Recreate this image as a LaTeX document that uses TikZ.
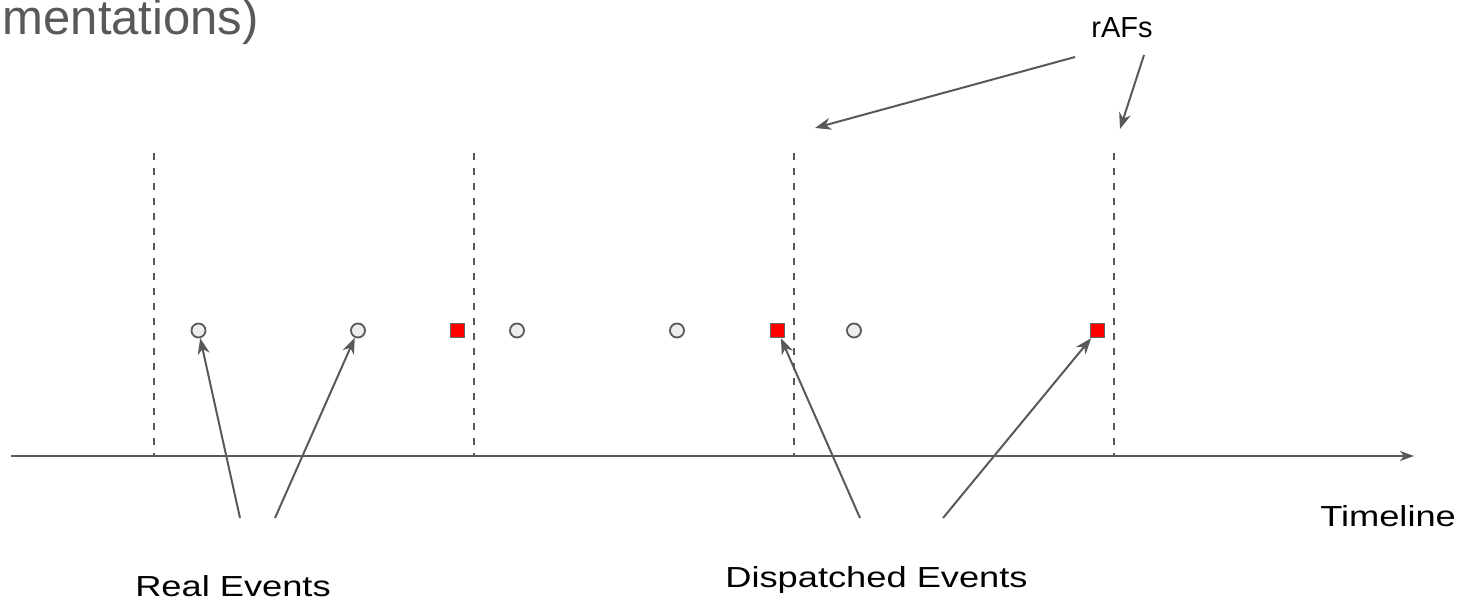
\documentclass[tikz,border=0pt]{standalone}
\usepackage{fontspec}
\setmainfont{Liberation Sans}
\usetikzlibrary{arrows.meta}
\definecolor{linegray}{HTML}{595959}
\definecolor{dotfill}{HTML}{EEEEEE}
\definecolor{boxedge}{HTML}{666666}
\tikzset{
  every picture/.style={x=1pt,y=-1pt},
  tl/.style={draw=linegray,line width=2pt},
  raf/.style={draw=linegray,line width=2pt,dash pattern=on 7pt off 8pt},
  realev/.style={circle,draw=linegray,fill=dotfill,line width=1.8pt,minimum size=14pt,inner sep=0pt},
  dispev/.style={rectangle,draw=boxedge,fill=red,line width=1.5pt,minimum size=14pt,inner sep=0pt},
  pointer/.style={draw=linegray,line width=2pt,-{Stealth[length=16pt,width=12pt,inset=5pt]}},
  lbl/.style={font=\fontsize{29}{34}\selectfont,xscale=1.25,inner sep=0pt,anchor=base},
}
\begin{document}
\begin{tikzpicture}
\useasboundingbox (0,0) rectangle (1461,604);
\clip (0,0) rectangle (1461,604);

% heading fragment
\node[font=\fontsize{49}{58}\selectfont,text=linegray,inner sep=0pt,anchor=base east] (head) at (259,35) {mentations)};

% timeline axis
\coordinate (t0) at (11,456);
\coordinate (t1) at (1414,456);
\draw[tl,-{Stealth[length=14pt,width=10pt,inset=4pt]}] (t0) -- (t1);

% frame boundaries
\foreach \n/\x in {f1/154,f2/474,f3/794,f4/1114}{
  \coordinate (\n top) at (\x,153);
  \coordinate (\n bot) at (\x,456);
  \draw[raf] (\n top) -- (\n bot);
}

% real events
\node[realev] (e1) at (198.5,330.5) {};
\node[realev] (e2) at (358,330.5) {};
\node[realev] (e3) at (517,330.5) {};
\node[realev] (e4) at (677,330.5) {};
\node[realev] (e5) at (854,330.5) {};

% dispatched events
\node[dispev] (d1) at (457.5,330.5) {};
\node[dispev] (d2) at (777.5,330.5) {};
\node[dispev] (d3) at (1097.5,330.5) {};

% labels
\node[lbl] (lreal) at (233,596) {Real Events};
\node[lbl] (ldisp) at (876.5,587) {Dispatched Events};
\node[lbl,anchor=base west] (ltime) at (1320,526) {Timeline};
\node[lbl,xscale=0.8] (lraf) at (1122,38) {rAFs};

% pointer tails
\coordinate (pr1) at (240,518);
\coordinate (pr2) at (275,518);
\coordinate (pd1) at (860,518);
\coordinate (pd2) at (943,518);
\coordinate (pa1) at (1075,57);
\coordinate (pa2) at (1144,55);
\coordinate (qa1) at (815,128);
\coordinate (qa2) at (1120,129);

\draw[pointer] (pr1) -- (e1);
\draw[pointer] (pr2) -- (e2);
\draw[pointer] (pd1) -- (d2);
\draw[pointer] (pd2) -- (d3);
\draw[pointer] (pa1) -- (qa1);
\draw[pointer] (pa2) -- (qa2);
\end{tikzpicture}
\end{document}
